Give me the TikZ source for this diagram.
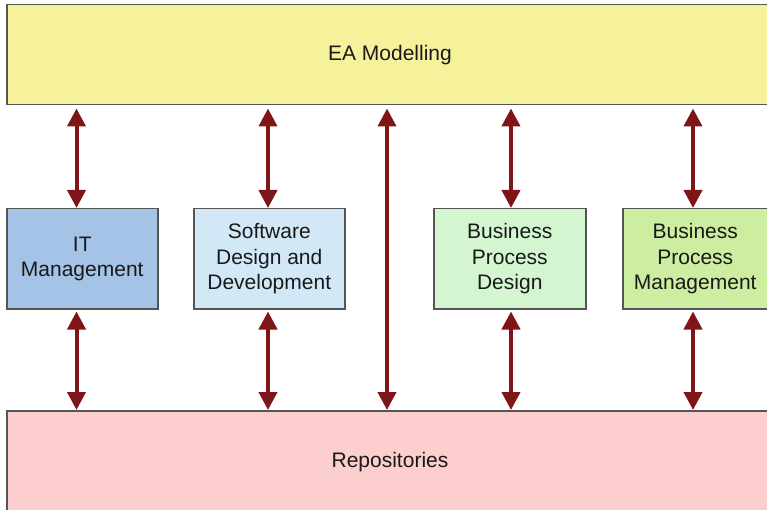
\documentclass[tikz,border=0pt]{standalone}
\usepackage{fontspec}
\setmainfont{Liberation Sans}
\usetikzlibrary{arrows.meta}
\definecolor{bordc}{HTML}{555555}
\definecolor{arrc}{HTML}{7F1517}
\definecolor{cyel}{HTML}{F6F29B}
\definecolor{cblue}{HTML}{A4C3E6}
\definecolor{clblue}{HTML}{D3E8F6}
\definecolor{clgreen}{HTML}{D3F5D0}
\definecolor{cgreen}{HTML}{CDEEA1}
\definecolor{cpink}{HTML}{FCCECE}
\tikzset{
  lbl/.style={font=\fontsize{21}{25.5}\selectfont, text=black!90},
  box/.style={lbl, draw=bordc, line width=1.5pt, anchor=north west, inner sep=0pt, align=center},
  dbl/.style={draw=arrc, line width=4pt, {Triangle[length=18pt,width=18pt]}-{Triangle[length=18pt,width=18pt]}},
}
\begin{document}
\begin{tikzpicture}[x=1pt,y=-1pt]
\useasboundingbox (0,0) rectangle (767,510);
\clip (0,0) rectangle (767,510);
\node[box, fill=cyel, minimum width=768pt, minimum height=100pt] (ea) at (6,4) {};
\node[lbl] (ealabel) at (390,55) {EA Modelling};
\node[box, fill=cpink, minimum width=768pt, minimum height=110pt] (rep) at (6,410) {};
\node[lbl] (replabel) at (390,462) {Repositories};
\node[box, fill=cblue, minimum width=151pt, minimum height=100pt] (it) at (6,208) {IT\\Management};
\node[box, fill=clblue, minimum width=151pt, minimum height=100pt] (sd) at (193,208) {Software\\Design and\\Development};
\node[box, fill=clgreen, minimum width=152pt, minimum height=100pt] (bpd) at (433,208) {Business\\Process\\Design};
\node[box, fill=cgreen, minimum width=145pt, minimum height=100pt] (bpm) at (622,208) {Business\\Process\\Management};
\coordinate (a1) at (76.5,0);
\coordinate (a2) at (268,0);
\coordinate (a3) at (387,0);
\coordinate (a4) at (511,0);
\coordinate (a5) at (693,0);
\draw[dbl] ([yshift=-3pt]ea.south -| a1) -- (it.north -| a1);
\draw[dbl] ([yshift=-3pt]ea.south -| a2) -- (sd.north -| a2);
\draw[dbl] ([yshift=-3pt]ea.south -| a3) -- (rep.north -| a3);
\draw[dbl] ([yshift=-3pt]ea.south -| a4) -- (bpd.north -| a4);
\draw[dbl] ([yshift=-3pt]ea.south -| a5) -- (bpm.north -| a5);
\draw[dbl] ([yshift=-2pt]it.south -| a1) -- (rep.north -| a1);
\draw[dbl] ([yshift=-2pt]sd.south -| a2) -- (rep.north -| a2);
\draw[dbl] ([yshift=-2pt]bpd.south -| a4) -- (rep.north -| a4);
\draw[dbl] ([yshift=-2pt]bpm.south -| a5) -- (rep.north -| a5);
\end{tikzpicture}
\end{document}
